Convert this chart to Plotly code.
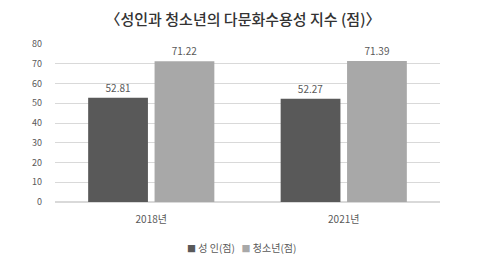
import plotly.graph_objects as go

categories = ["2018년", "2021년"]
adult = [52.81, 52.27]
youth = [71.22, 71.39]
series_names = ["성 인(점)", "청소년(점)"]
colors = ["#595959", "#a8a8a8"]
y_ticks = [0, 10, 20, 30, 40, 50, 60, 70, 80]
title = "〈성인과 청소년의 다문화수용성 지수 (점)〉"

font = "Noto Sans CJK KR"
fig = go.Figure()
for vals, name, col in zip([adult, youth], series_names, colors):
    fig.add_trace(go.Bar(x=categories, y=vals, name=name, showlegend=False,
                         marker=dict(color=col, line=dict(width=0)),
                         text=[f"{v:.2f}" for v in vals], textposition="outside",
                         textfont=dict(size=10, color="#595959"), cliponaxis=False))

legend_text = "&nbsp;&nbsp;&nbsp;".join(
    f"<span style='color:{c};font-size:9px'>■</span> {n}" for n, c in zip(series_names, colors))

fig.update_layout(
    width=486, height=268,
    margin=dict(l=55, r=46, t=44, b=66),
    paper_bgcolor="white", plot_bgcolor="white",
    font=dict(family=font, color="#595959", size=10),
    barmode="group", bargap=0.31, bargroupgap=0.1,
    title=dict(text=title, x=0.5, xanchor="center", y=0.925, yanchor="middle",
               font=dict(size=15, color="#333333", family=font, weight=500)),
    showlegend=False,
    annotations=[dict(text=legend_text, x=0.485, y=-0.285, xref="paper", yref="paper",
                      xanchor="center", yanchor="middle", showarrow=False,
                      font=dict(size=10, color="#595959", family=font))],
)
fig.update_yaxes(range=[0, 80], tickvals=y_ticks, showgrid=True, gridcolor="#d9d9d9",
                 gridwidth=1, zeroline=True, zerolinecolor="#d9d9d9", ticks="",
                 tickfont=dict(size=9, color="#595959"), ticklabelstandoff=12)
fig.update_xaxes(showline=False, ticks="", tickfont=dict(size=10, color="#595959"),
                 ticklabelstandoff=10)

fig.write_html("out.html")
